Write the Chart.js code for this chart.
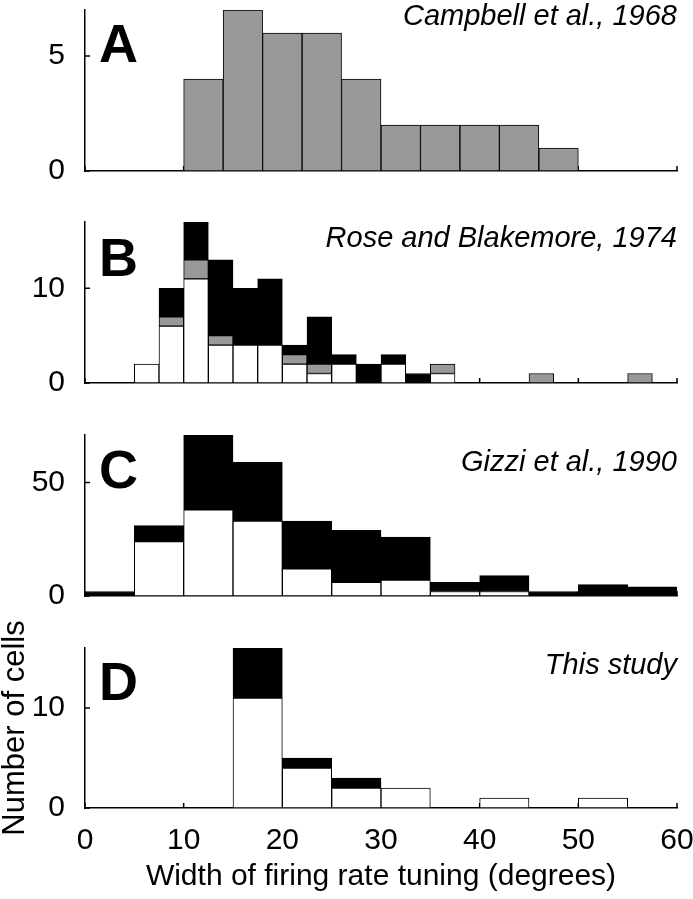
<!DOCTYPE html>
<html>
<head>
<meta charset="utf-8">
<title>Width of firing rate tuning</title>
<script src="https://cdn.jsdelivr.net/npm/chart.js@4.4.1/dist/chart.umd.min.js"></script>
<style>
  body { margin: 0; background: #fff; }
  #wrap { position: relative; width: 693px; height: 899px; }
  #wrap canvas { position: absolute; left: 0; }
</style>
</head>
<body>
<div id="wrap">
  <canvas id="panelA" width="693" height="200" style="top:0px"></canvas>
  <canvas id="panelB" width="693" height="200" style="top:212px"></canvas>
  <canvas id="panelC" width="693" height="200" style="top:425px"></canvas>
  <canvas id="panelD" width="693" height="299" style="top:600px"></canvas>
</div>
<script>
// A: Campbell et al., 1968 (4 degree bins, centres)
const binsA = [12, 16, 20, 24, 28, 32, 36, 40, 44, 48];
const countsA = [4, 7, 6, 6, 4, 2, 2, 2, 2, 1];

// B: Rose and Blakemore, 1974 (2.5 degree bins)
const binsB = [6.25, 8.75, 11.25, 13.75, 16.25, 18.75, 21.25, 23.75, 26.25, 28.75, 31.25,
               33.75, 36.25, 38.75, 41.25, 43.75, 46.25, 48.75, 51.25, 53.75, 56.25];
const whiteB = [2, 6, 11, 4, 4, 4, 2, 1, 2, 0, 2, 0, 1, 0, 0, 0, 0, 0, 0, 0, 0];
const grayB  = [0, 1, 2, 1, 0, 0, 1, 1, 0, 0, 0, 0, 1, 0, 0, 0, 1, 0, 0, 0, 1];
const blackB = [0, 3, 4, 8, 6, 7, 1, 5, 1, 2, 1, 1, 0, 0, 0, 0, 0, 0, 0, 0, 0];

// C and D: 5 degree bins
const bins5 = [2.5, 7.5, 12.5, 17.5, 22.5, 27.5, 32.5, 37.5, 42.5, 47.5, 52.5, 57.5];
const whiteC = [0, 24, 38, 33, 12, 6, 7, 2, 2, 0, 0, 0];
const blackC = [2, 7, 33, 26, 21, 23, 19, 4, 7, 2, 5, 4];
const whiteD = [0, 0, 0, 11, 4, 2, 2, 0, 1, 0, 1, 0];
const blackD = [0, 0, 0, 5, 1, 1, 0, 0, 0, 0, 0, 0];

const xTicks = [0, 10, 20, 30, 40, 50, 60];
const yTicksA = [0, 5];
const yTicksB = [0, 10];
const yTicksC = [0, 50];
const yTicksD = [0, 10];

Chart.defaults.font.family = '"Liberation Sans", Arial, Helvetica, sans-serif';
Chart.defaults.color = '#000';

const toPoints = (bins, vals) => bins.map((b, i) => ({ x: b, y: vals[i] }));
const barSet = (bins, vals, color) => ({
  data: toPoints(bins, vals),
  backgroundColor: color,
  borderColor: '#000',
  borderWidth: 1,
  borderSkipped: false,
  barPercentage: 1,
  categoryPercentage: 1
});

// small ticks pointing into the plot, drawn under the bars
const inwardTicks = {
  id: 'inwardTicks',
  beforeDatasetsDraw(chart) {
    const { ctx, chartArea, scales: { x, y } } = chart;
    ctx.save();
    ctx.strokeStyle = '#000';
    ctx.lineWidth = 1.5;
    ctx.beginPath();
    x.ticks.forEach(t => {
      const px = x.getPixelForValue(t.value);
      ctx.moveTo(px, chartArea.bottom);
      ctx.lineTo(px, chartArea.bottom - 5);
    });
    y.ticks.forEach(t => {
      const py = y.getPixelForValue(t.value);
      ctx.moveTo(chartArea.left, py);
      ctx.lineTo(chartArea.left + 5, py);
    });
    ctx.stroke();
    ctx.restore();
  }
};

// panel letter and source text
const panelText = {
  id: 'panelText',
  afterDraw(chart, args, opts) {
    const { ctx, chartArea } = chart;
    ctx.save();
    ctx.fillStyle = '#000';
    ctx.textBaseline = 'alphabetic';
    ctx.font = 'bold 54px "Liberation Sans", Arial, sans-serif';
    ctx.textAlign = 'left';
    ctx.fillText(opts.letter, chartArea.left + 14, chartArea.top + opts.letterY);
    ctx.font = 'italic 29px "Liberation Sans", Arial, sans-serif';
    ctx.textAlign = 'right';
    ctx.fillText(opts.source, chartArea.right, chartArea.top + opts.sourceY);
    ctx.restore();
  }
};

function makePanel(id, datasets, cfg) {
  const bottomAxis = !!cfg.bottomAxis;
  return new Chart(document.getElementById(id), {
    type: 'bar',
    data: { datasets },
    options: {
      responsive: false,
      animation: false,
      devicePixelRatio: 1,
      layout: { padding: { top: cfg.padTop || 10, right: 16, bottom: 0, left: 0 } },
      plugins: {
        legend: { display: false },
        tooltip: { enabled: false },
        panelText: { letter: cfg.letter, source: cfg.source, letterY: cfg.letterY, sourceY: cfg.sourceY }
      },
      scales: {
        x: {
          type: 'linear',
          min: 0,
          max: 60,
          offset: false,
          stacked: true,
          border: { display: true, color: '#000', width: 1.5 },
          grid: { display: false, offset: false },
          ticks: { display: bottomAxis, padding: 7, font: { size: 30 }, color: '#000' },
          afterBuildTicks: s => { s.ticks = xTicks.map(v => ({ value: v })); },
          afterFit: s => { s.height = cfg.xHeight; s.paddingLeft = 0; s.paddingRight = 0; },
          title: {
            display: bottomAxis,
            text: 'Width of firing rate tuning (degrees)',
            font: { size: 30 },
            color: '#000',
            padding: { top: 0, bottom: 4 }
          }
        },
        y: {
          min: 0,
          max: cfg.yMax,
          stacked: true,
          border: { display: true, color: '#000', width: 1.5 },
          grid: { display: false },
          ticks: { padding: 12, font: { size: 30 }, color: '#000' },
          afterBuildTicks: s => { s.ticks = cfg.yTicks.map(v => ({ value: v })); },
          afterFit: s => { s.width = 85; s.paddingTop = 0; s.paddingBottom = 0; },
          title: {
            display: bottomAxis,
            text: 'Number of cells',
            font: { size: 31, lineHeight: 1.0 },
            color: '#000',
            padding: 0
          }
        }
      }
    },
    plugins: [inwardTicks, panelText]
  });
}

makePanel('panelA', [barSet(binsA, countsA, '#999999')],
  { letter: 'A', source: 'Campbell et al., 1968', yMax: 7, yTicks: yTicksA, xHeight: 29, letterY: 52, sourceY: 15 });

makePanel('panelB', [
  barSet(binsB, whiteB, '#ffffff'),
  barSet(binsB, grayB, '#999999'),
  barSet(binsB, blackB, '#000000')
], { letter: 'B', source: 'Rose and Blakemore, 1974', yMax: 17, yTicks: yTicksB, xHeight: 29, letterY: 54, sourceY: 25 });

makePanel('panelC', [
  barSet(bins5, whiteC, '#ffffff'),
  barSet(bins5, blackC, '#000000')
], { letter: 'C', source: 'Gizzi et al., 1990', yMax: 71, yTicks: yTicksC, xHeight: 29, letterY: 53, sourceY: 36 });

makePanel('panelD', [
  barSet(bins5, whiteD, '#ffffff'),
  barSet(bins5, blackD, '#000000')
], { letter: 'D', source: 'This study', yMax: 16, yTicks: yTicksD, xHeight: 91, padTop: 48, bottomAxis: true, letterY: 52, sourceY: 26 });
</script>
</body>
</html>
